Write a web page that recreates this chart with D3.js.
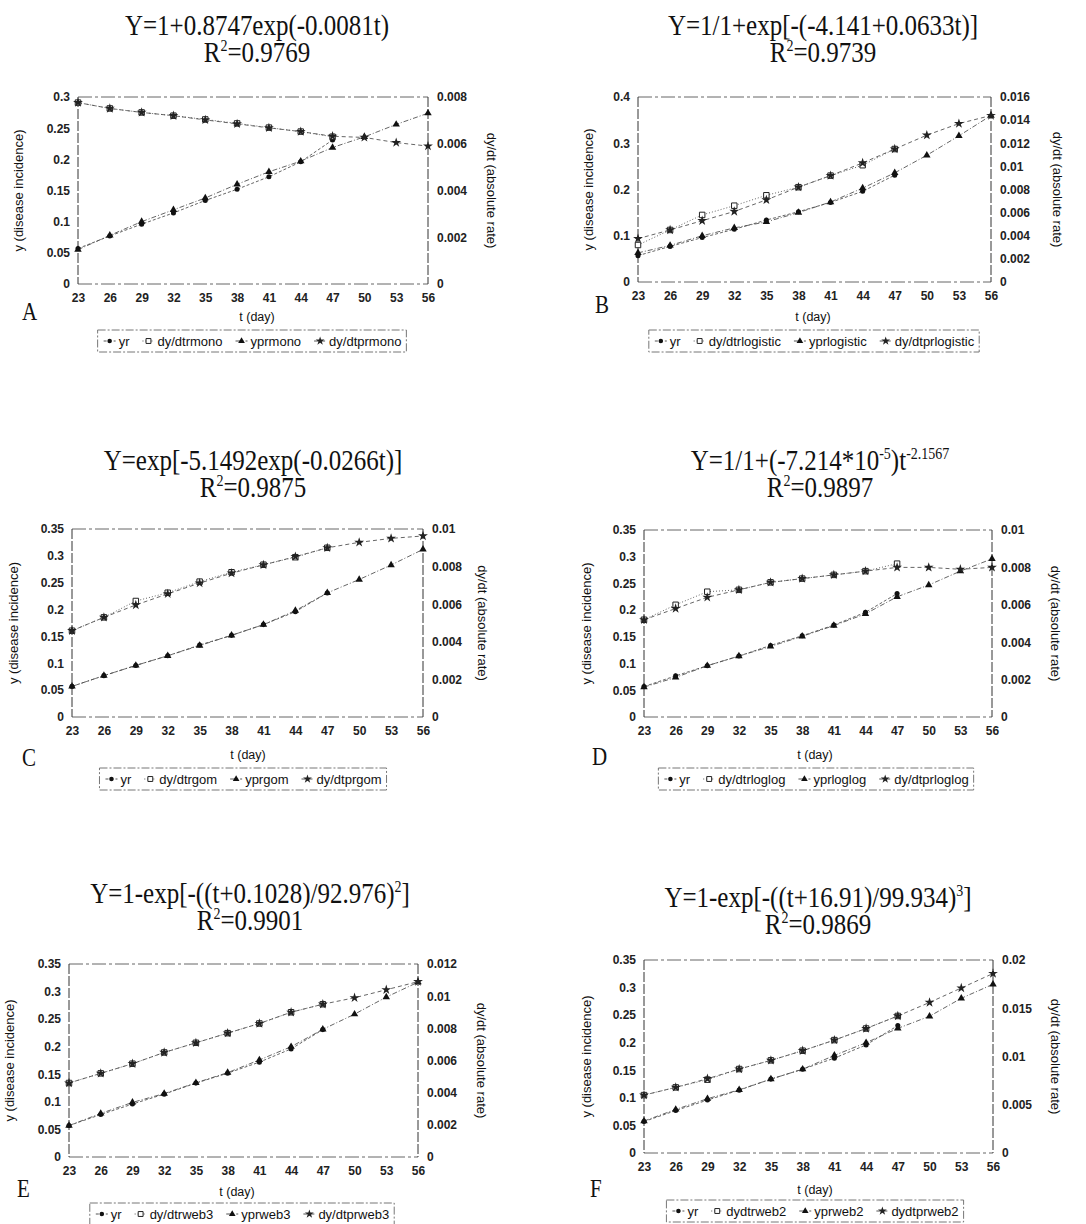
<!DOCTYPE html>
<html>
<head>
<meta charset="utf-8">
<script src="https://cdn.jsdelivr.net/npm/d3@7"></script>
<style>
  body { margin: 0; background: #fff; }
  svg { display: block; }
</style>
</head>
<body>
<svg id="chart" width="1086" height="1224"></svg>
<script>
// x categories (day) and the observed incidence (first 9 days only)
const days = [23, 26, 29, 32, 35, 38, 41, 44, 47, 50, 53, 56];
const yr = [0.057, 0.077, 0.096, 0.114, 0.134, 0.152, 0.172, 0.196, 0.231];

// A - monomolecular
const dydtrA = [0.00776, 0.00751, 0.00734, 0.0072, 0.00704, 0.00687, 0.00669, 0.00652, 0.0063];
const yprA = [0.055, 0.078, 0.100, 0.119, 0.138, 0.160, 0.180, 0.197, 0.219, 0.236, 0.256, 0.274];
const dydtprA = [0.00776, 0.00751, 0.00734, 0.0072, 0.00702, 0.00685, 0.00668, 0.00652, 0.00632, 0.00627, 0.00605, 0.0059];

// B - logistic
const dydtrB = [0.0032, 0.0045, 0.0058, 0.0066, 0.0075, 0.0082, 0.0092, 0.0101, 0.0115];
const yprB = [0.063, 0.079, 0.100, 0.117, 0.130, 0.150, 0.173, 0.203, 0.236, 0.274, 0.316, 0.360];
const dydtprB = [0.00375, 0.0045, 0.0053, 0.0061, 0.0071, 0.0082, 0.0092, 0.0103, 0.0115, 0.0127, 0.0137, 0.0144];

// C - gompertz
const dydtrC = [0.00459, 0.0053, 0.00617, 0.00661, 0.0072, 0.0077, 0.0081, 0.0085, 0.0090];
const yprC = [0.057, 0.077, 0.096, 0.114, 0.133, 0.152, 0.172, 0.198, 0.231, 0.256, 0.283, 0.312];
const dydtprC = [0.00459, 0.0053, 0.00596, 0.00655, 0.00712, 0.00765, 0.00809, 0.00853, 0.0090, 0.00929, 0.0095, 0.00963];

// D - log-logistic
const dydtrD = [0.0052, 0.0060, 0.0067, 0.0068, 0.0072, 0.0074, 0.0076, 0.0078, 0.0082];
const yprD = [0.056, 0.074, 0.096, 0.114, 0.132, 0.151, 0.171, 0.193, 0.225, 0.247, 0.273, 0.296];
const dydtprD = [0.0052, 0.0058, 0.0064, 0.0068, 0.0072, 0.0074, 0.0076, 0.0078, 0.0080, 0.0080, 0.0079, 0.0080];

// E - weibull 3
const dydtrE = [0.0046, 0.0052, 0.0058, 0.0065, 0.0071, 0.0077, 0.0083, 0.0090, 0.0095];
const yprE = [0.057, 0.079, 0.099, 0.115, 0.1345, 0.153, 0.176, 0.200, 0.2315, 0.259, 0.290, 0.317];
const dydtprE = [0.0046, 0.0052, 0.0058, 0.0065, 0.0071, 0.0077, 0.0083, 0.0090, 0.0095, 0.0099, 0.0104, 0.0109];

// F - weibull 2
const dydtrF = [0.0060, 0.0068, 0.0076, 0.0087, 0.0096, 0.0106, 0.0117, 0.0129, 0.0142];
const yprF = [0.058, 0.079, 0.0985, 0.1145, 0.134, 0.152, 0.177, 0.200, 0.226, 0.248, 0.2805, 0.306];
const dydtprF = [0.0060, 0.0068, 0.0077, 0.0087, 0.0096, 0.0106, 0.0117, 0.0129, 0.0142, 0.0156, 0.0171, 0.0186];

// tick labels
const leftTicksA = [0, 0.05, 0.1, 0.15, 0.2, 0.25, 0.3];
const leftTicksB = [0, 0.1, 0.2, 0.3, 0.4];
const leftTicks35 = [0, 0.05, 0.1, 0.15, 0.2, 0.25, 0.3, 0.35];
const rightTicksA = [0, 0.002, 0.004, 0.006, 0.008];
const rightTicksB = [0, 0.002, 0.004, 0.006, 0.008, 0.01, 0.012, 0.014, 0.016];
const rightTicksCD = [0, 0.002, 0.004, 0.006, 0.008, 0.01];
const rightTicksE = [0, 0.002, 0.004, 0.006, 0.008, 0.01, 0.012];
const rightTicksF = [0, 0.005, 0.01, 0.015, 0.02];

// equations: [text, isSuperscript]
const eqA = [["Y=1+0.8747exp(-0.0081t)", 0]];
const eqB = [["Y=1/1+exp[-(-4.141+0.0633t)]", 0]];
const eqC = [["Y=exp[-5.1492exp(-0.0266t)]", 0]];
const eqD = [["Y=1/1+(-7.214*10", 0], ["-5", 1], [")t", 0], ["-2.1567", 1]];
const eqE = [["Y=1-exp[-((t+0.1028)/92.976)", 0], ["2", 1], ["]", 0]];
const eqF = [["Y=1-exp[-((t+16.91)/99.934)", 0], ["3", 1], ["]", 0]];
const r2 = ["0.9769", "0.9739", "0.9875", "0.9897", "0.9901", "0.9869"];

const legendA = ["yr", "dy/dtrmono", "yprmono", "dy/dtprmono"];
const legendB = ["yr", "dy/dtrlogistic", "yprlogistic", "dy/dtprlogistic"];
const legendC = ["yr", "dy/dtrgom", "yprgom", "dy/dtprgom"];
const legendD = ["yr", "dy/dtrloglog", "yprloglog", "dy/dtprloglog"];
const legendE = ["yr", "dy/dtrweb3", "yprweb3", "dy/dtprweb3"];
const legendF = ["yr", "dydtrweb2", "yprweb2", "dydtprweb2"];

const svg = d3.select("#chart");
const sans = "'Liberation Sans', Arial, sans-serif";
const serif = "'Liberation Serif', 'Times New Roman', serif";

// marker + line style per series: yr, dy/dtr, ypr, dy/dtpr
const seriesStyle = [
  { sym: d3.symbolCircle, size: 20, fill: "#111", stroke: "none", dash: "3,2" },
  { sym: d3.symbolSquare, size: 30, fill: "#fff", stroke: "#222", dash: "1,2" },
  { sym: d3.symbolTriangle, size: 24, fill: "#111", stroke: "none", dash: "5,2,1,2" },
  { sym: d3.symbolStar, size: 30, fill: "#222", stroke: "none", dash: "4,3" }
];

function drawPanel(p) {
  const g = svg.append("g");
  const x = d3.scaleLinear().domain([23, 56]).range([p.L, p.R]);
  const yL = d3.scaleLinear().domain([0, p.leftMax]).range([p.B, p.T]);
  const yR = d3.scaleLinear().domain([0, p.rightMax]).range([p.B, p.T]);
  const fmt = d => String(+d.toFixed(4));

  // title (equation + R2)
  const t1 = g.append("text")
    .attr("transform", "translate(" + p.cx + "," + p.ty + ") scale(1,1.18)")
    .attr("text-anchor", "middle")
    .style("font-family", serif).style("font-size", "25px").attr("fill", "#111");
  let up = 0;
  p.eq.forEach(function(s) {
    const ts = t1.append("tspan").text(s[0]);
    if (s[1]) { ts.style("font-size", "14px").attr("dy", -9 - up); up = -9; }
    else { ts.attr("dy", -up); up = 0; }
  });
  const t2 = g.append("text")
    .attr("transform", "translate(" + p.cx + "," + (p.ty + 27) + ") scale(1,1.18)")
    .attr("text-anchor", "middle")
    .style("font-family", serif).style("font-size", "25px").attr("fill", "#111");
  t2.append("tspan").text("R");
  t2.append("tspan").text("2").style("font-size", "14px").attr("dy", -9);
  t2.append("tspan").text("=" + p.r2).attr("dy", 9);

  // plot frame
  g.append("line").attr("x1", p.L).attr("x2", p.R).attr("y1", p.T).attr("y2", p.T)
    .attr("stroke", "#666").attr("stroke-dasharray", "14,3,3,3");
  g.append("line").attr("x1", p.L).attr("x2", p.R).attr("y1", p.B).attr("y2", p.B)
    .attr("stroke", "#666").attr("stroke-dasharray", "14,3,3,3");
  g.append("line").attr("x1", p.L).attr("x2", p.L).attr("y1", p.T).attr("y2", p.B)
    .attr("stroke", "#333").attr("stroke-dasharray", "10,2");
  g.append("line").attr("x1", p.R).attr("x2", p.R).attr("y1", p.T).attr("y2", p.B)
    .attr("stroke", "#333").attr("stroke-dasharray", "10,2");

  // axes
  const ax = g.append("g").attr("transform", "translate(0," + p.B + ")")
    .call(d3.axisBottom(x).tickValues(days).tickSize(0).tickPadding(9).tickFormat(d3.format("d")));
  const al = g.append("g").attr("transform", "translate(" + p.L + ",0)")
    .call(d3.axisLeft(yL).tickValues(p.leftTicks).tickSize(0).tickPadding(8).tickFormat(fmt));
  const ar = g.append("g").attr("transform", "translate(" + p.R + ",0)")
    .call(d3.axisRight(yR).tickValues(p.rightTicks).tickSize(0).tickPadding(9).tickFormat(fmt));
  [ax, al, ar].forEach(function(a) {
    a.select(".domain").remove();
    a.selectAll("text").style("font-family", sans).style("font-size", "12px")
      .style("font-weight", "bold").attr("fill", "#222");
  });

  // axis titles
  const midY = (p.T + p.B) / 2;
  g.append("text").attr("transform", "translate(" + p.lx + "," + midY + ") rotate(-90)")
    .attr("text-anchor", "middle").attr("dy", "0.35em")
    .style("font-family", sans).style("font-size", "13px").attr("fill", "#111")
    .text("y (disease incidence)");
  g.append("text").attr("transform", "translate(" + p.rx + "," + midY + ") rotate(90)")
    .attr("text-anchor", "middle").attr("dy", "0.35em")
    .style("font-family", sans).style("font-size", "13px").attr("fill", "#111")
    .text("dy/dt (absolute rate)");
  g.append("text").attr("x", p.dx).attr("y", p.dy).attr("text-anchor", "middle")
    .style("font-family", sans).style("font-size", "12.5px").attr("fill", "#111")
    .text("t (day)");
  g.append("text").attr("transform", "translate(" + p.lettX + "," + p.lettY + ") scale(1,1.2)")
    .style("font-family", serif).style("font-size", "21px").attr("fill", "#111")
    .text(p.id);

  // series
  const series = [
    { vals: yr, y: yL }, { vals: p.dydtr, y: yR },
    { vals: p.ypr, y: yL }, { vals: p.dydtpr, y: yR }
  ];
  series.forEach(function(s, i) {
    const pts = s.vals.map(function(v, j) { return [days[j], v]; });
    g.append("path").datum(pts)
      .attr("fill", "none").attr("stroke", "#555").attr("stroke-width", 0.9)
      .attr("stroke-dasharray", seriesStyle[i].dash)
      .attr("d", d3.line().x(d => x(d[0])).y(d => s.y(d[1])));
  });
  series.forEach(function(s, i) {
    const st = seriesStyle[i];
    g.selectAll(null).data(s.vals).enter().append("path")
      .attr("transform", (d, j) => "translate(" + x(days[j]) + "," + s.y(d) + ")")
      .attr("d", d3.symbol().type(st.sym).size(st.size))
      .attr("fill", st.fill).attr("stroke", st.stroke).attr("stroke-width", 1);
  });

  // legend
  const lg = g.append("g");
  let cur = 0;
  p.legend.forEach(function(name, i) {
    const st = seriesStyle[i];
    const mx = cur + 7;
    lg.append("line").attr("x1", mx - 6).attr("x2", mx + 6).attr("y1", 0).attr("y2", 0)
      .attr("stroke", "#555").attr("stroke-dasharray", st.dash);
    lg.append("path").attr("transform", "translate(" + mx + ",0)")
      .attr("d", d3.symbol().type(st.sym).size(st.size * 0.8))
      .attr("fill", st.fill).attr("stroke", st.stroke);
    const tx = lg.append("text").attr("x", mx + 9).attr("y", 0).attr("dy", "0.35em")
      .style("font-family", sans).style("font-size", "13px").attr("fill", "#111").text(name);
    cur = mx + 9 + tx.node().getComputedTextLength() + 12;
  });
  const lw = cur - 12;
  lg.attr("transform", "translate(" + (p.lgx - lw / 2) + "," + p.lgy + ")");
  lg.insert("rect", ":first-child").attr("x", -5).attr("y", -11).attr("width", lw + 10).attr("height", 22)
    .attr("fill", "#fff").attr("stroke", "#777").attr("stroke-dasharray", "8,2,2,2");
}

const panels = [
  { id: "A", L: 78, R: 428, T: 97, B: 284, leftMax: 0.3, rightMax: 0.008,
    leftTicks: leftTicksA, rightTicks: rightTicksA, eq: eqA, r2: r2[0],
    dydtr: dydtrA, ypr: yprA, dydtpr: dydtprA, legend: legendA,
    cx: 257, ty: 35, lx: 18, rx: 492, dx: 257, dy: 321, lettX: 22, lettY: 320, lgx: 252, lgy: 341 },
  { id: "B", L: 638, R: 991, T: 97, B: 282, leftMax: 0.4, rightMax: 0.016,
    leftTicks: leftTicksB, rightTicks: rightTicksB, eq: eqB, r2: r2[1],
    dydtr: dydtrB, ypr: yprB, dydtpr: dydtprB, legend: legendB,
    cx: 823, ty: 35, lx: 588, rx: 1058, dx: 813, dy: 321, lettX: 595, lettY: 313, lgx: 814, lgy: 341 },
  { id: "C", L: 72, R: 423, T: 529, B: 717, leftMax: 0.35, rightMax: 0.01,
    leftTicks: leftTicks35, rightTicks: rightTicksCD, eq: eqC, r2: r2[2],
    dydtr: dydtrC, ypr: yprC, dydtpr: dydtprC, legend: legendC,
    cx: 253, ty: 470, lx: 13, rx: 483, dx: 248, dy: 759, lettX: 22, lettY: 766, lgx: 243, lgy: 779 },
  { id: "D", L: 644, R: 992, T: 530, B: 717, leftMax: 0.35, rightMax: 0.01,
    leftTicks: leftTicks35, rightTicks: rightTicksCD, eq: eqD, r2: r2[3],
    dydtr: dydtrD, ypr: yprD, dydtpr: dydtprD, legend: legendD,
    cx: 820, ty: 470, lx: 586, rx: 1056, dx: 815, dy: 759, lettX: 592, lettY: 765, lgx: 816, lgy: 779 },
  { id: "E", L: 69, R: 418, T: 964, B: 1157, leftMax: 0.35, rightMax: 0.012,
    leftTicks: leftTicks35, rightTicks: rightTicksE, eq: eqE, r2: r2[4],
    dydtr: dydtrE, ypr: yprE, dydtpr: dydtprE, legend: legendE,
    cx: 250, ty: 903, lx: 9, rx: 482, dx: 237, dy: 1196, lettX: 17, lettY: 1197, lgx: 242, lgy: 1214 },
  { id: "F", L: 644, R: 993, T: 960, B: 1153, leftMax: 0.35, rightMax: 0.02,
    leftTicks: leftTicks35, rightTicks: rightTicksF, eq: eqF, r2: r2[5],
    dydtr: dydtrF, ypr: yprF, dydtpr: dydtprF, legend: legendF,
    cx: 818, ty: 907, lx: 586, rx: 1056, dx: 815, dy: 1194, lettX: 590, lettY: 1197, lgx: 815, lgy: 1211 }
];

panels.forEach(drawPanel);
</script>
</body>
</html>
